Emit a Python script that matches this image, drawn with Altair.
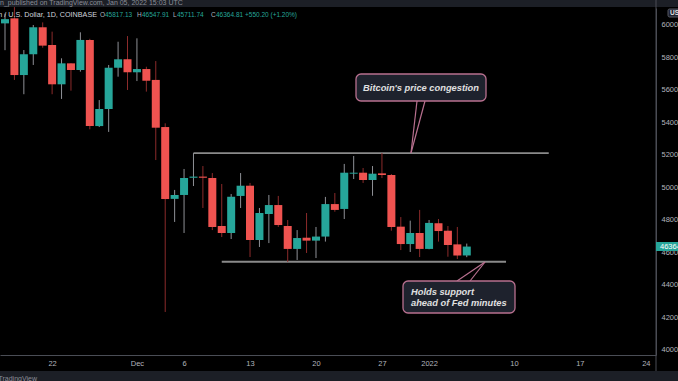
import altair as alt
import pandas as pd

# ---------------- data ----------------
dates = ["2021-11-17", "2021-11-18", "2021-11-19", "2021-11-20", "2021-11-21", "2021-11-22",
         "2021-11-23", "2021-11-24", "2021-11-25", "2021-11-26", "2021-11-27", "2021-11-28",
         "2021-11-29", "2021-11-30", "2021-12-01", "2021-12-02", "2021-12-03", "2021-12-04",
         "2021-12-05", "2021-12-06", "2021-12-07", "2021-12-08", "2021-12-09", "2021-12-10",
         "2021-12-11", "2021-12-12", "2021-12-13", "2021-12-14", "2021-12-15", "2021-12-16",
         "2021-12-17", "2021-12-18", "2021-12-19", "2021-12-20", "2021-12-21", "2021-12-22",
         "2021-12-23", "2021-12-24", "2021-12-25", "2021-12-26", "2021-12-27", "2021-12-28",
         "2021-12-29", "2021-12-30", "2021-12-31", "2022-01-01", "2022-01-02", "2022-01-03",
         "2022-01-04", "2022-01-05"]
opens = [60100, 60410, 56920, 58200, 59860, 58770, 56350, 57640, 57230, 59080, 53780, 54830,
         57370, 57890, 57090, 57290, 56620, 53720, 49300, 49540, 50600, 50670, 50585, 47630,
         47200, 49480, 50110, 46770, 48370, 48920, 47630, 46220, 46910, 46730, 46980, 48980,
         48680, 50850, 50910, 50460, 50870, 50770, 47590, 46520, 47200, 46220, 47800, 47340,
         46500, 45817.13]
highs = [60700, 61100, 58460, 60000, 60160, 59590, 57950, 57650, 59550, 59150, 55380, 57540,
         58970, 59320, 59180, 57430, 57780, 53950, 49850, 51140, 52120, 51320, 50890, 50215,
         49600, 50890, 50280, 48740, 49540, 49480, 48000, 47380, 48430, 47570, 49420, 49660,
         51450, 51940, 51200, 51320, 52120, 50830, 48180, 47960, 48620, 48000, 48060, 47630,
         47570, 46547.91]
lows = [58450, 56620, 55740, 57540, 58600, 55740, 55450, 55960, 57130, 53580, 53720, 53420,
        56820, 56000, 56550, 55900, 51690, 42340, 47880, 47200, 50090, 48740, 47380, 46950,
        46830, 48740, 45720, 46340, 46580, 47570, 45420, 45540, 45970, 45660, 46670, 48510,
        48060, 50520, 50280, 49490, 50580, 47340, 46150, 46030, 45720, 46200, 46670, 45740,
        45600, 45711.74]
closes = [60360, 56920, 58200, 59860, 58730, 56350, 57640, 57230, 59080, 53780, 54830, 57370,
          57890, 57090, 57290, 56570, 53680, 49290, 49540, 50585, 50670, 50600, 47570, 47200,
          49430, 50110, 46770, 48430, 48920, 47690, 46220, 46890, 46730, 46980, 48980, 48620,
          50910, 50910, 50460, 50850, 50770, 47570, 46520, 47200, 46220, 47820, 47320, 46460,
          45814.61, 46364.81]

tick_dates = ["2021-11-22", "2021-12-01", "2021-12-06", "2021-12-13", "2021-12-20",
              "2021-12-27", "2022-01-01", "2022-01-10", "2022-01-17", "2022-01-24"]
tick_labels = ["22", "Dec", "6", "13", "20", "27", "2022", "10", "17", "24"]
price_ticks = [40000, 42000, 44000, 46000, 48000, 50000, 52000, 54000, 56000, 58000, 60000]

level_prices = [52120, 45430]
level_start = ["2021-12-07T00:00", "2021-12-10T00:00"]
level_end = ["2022-01-13T16:48", "2022-01-09T04:00"]

callout_1 = "Bitcoin's price congestion"
callout_2 = ["Holds support", "ahead of Fed minutes"]

# ---------------- tables ----------------
origin = pd.Timestamp("2021-12-01")
df = pd.DataFrame({"date": dates, "o": opens, "h": highs, "l": lows, "c": closes})
df["d"] = (pd.to_datetime(df["date"]) - origin).dt.days

lv = pd.DataFrame({"p": level_prices,
                   "x1": [(pd.Timestamp(s) - origin) / pd.Timedelta(days=1) for s in level_start],
                   "x2": [(pd.Timestamp(s) - origin) / pd.Timedelta(days=1) for s in level_end]})

tick_vals = [int((pd.Timestamp(t) - origin).days) for t in tick_dates]
expr = "''"
for v, lab in reversed(list(zip(tick_vals, tick_labels))):
    expr = f"datum.value == {v} ? '{lab}' : {expr}"

last = df.iloc[-1]
prev_c = df.iloc[-2]["c"]
chg = last["c"] - prev_c
pct = chg / prev_c * 100
tag_df = pd.DataFrame({"c": [last["c"]], "t": [f"{last['c']:.2f}"]})

one = pd.DataFrame({"k": [0]})

FONT = "'Liberation Sans Narrow', 'Liberation Sans', Arial, sans-serif"
SANS = "'Liberation Sans', Arial, sans-serif"
GREEN = "#26a69a"
RED = "#ef5350"
AXC = "#b2b5be"
LINEC = "#4a4d55"

xs = alt.Scale(domain=[-14.0, 54.55], nice=False, zero=False)
ys = alt.Scale(domain=[39692, 61046], nice=False, zero=False)
XAX = alt.Axis(values=tick_vals, labelExpr=expr, ticks=False, grid=False, title=None,
               domainColor=LINEC, labelColor=AXC, labelFontSize=7.5, labelFont=FONT,
               labelPadding=4, labelFlush=False, labelOverlap=False, labelBound=False)
YAX = alt.Axis(orient="right", values=price_ticks, format="d", ticks=False, grid=False,
               title=None, domainColor=LINEC, labelColor=AXC, labelFontSize=7.5,
               labelFont=FONT, labelPadding=5, labelFlush=False, labelOverlap=False,
               labelBound=False)


def txt(s, x, y, color, size=7.5, align="left", baseline="middle", font=SANS,
        weight="normal", style="normal"):
    return alt.Chart(one).mark_text(text=s, align=align, baseline=baseline, color=color,
                                    fontSize=size, font=font, fontWeight=weight,
                                    fontStyle=style).encode(x=alt.value(x), y=alt.value(y))


def box(x1, x2, y1, y2, fill, stroke=None, sw=0, r=0):
    kw = dict(fill=fill, cornerRadius=r)
    if stroke:
        kw.update(stroke=stroke, strokeWidth=sw)
    return alt.Chart(one).mark_rect(**kw).encode(
        x=alt.value(x1), x2=alt.value(x2), y=alt.value(y1), y2=alt.value(y2))


def seg(x1, y1, x2, y2, color, w=1.2):
    return alt.Chart(one).mark_rule(color=color, strokeWidth=w).encode(
        x=alt.value(x1), x2=alt.value(x2), y=alt.value(y1), y2=alt.value(y2))


base = alt.Chart(df)
up = alt.datum.c >= alt.datum.o

wicks = base.mark_rule(strokeWidth=1).encode(
    x=alt.X("d:Q", scale=xs, axis=XAX),
    y=alt.Y("l:Q", scale=ys, axis=YAX),
    y2="h:Q",
    color=alt.condition(up, alt.value("#8e9096"), alt.value("#8c2b2b")),
)

bodies = base.mark_bar(size=8).encode(
    x=alt.X("d:Q", scale=xs, axis=XAX),
    y=alt.Y("o:Q", scale=ys, axis=YAX),
    y2="c:Q",
    color=alt.condition(up, alt.value(GREEN), alt.value(RED)),
)

levels = alt.Chart(lv).mark_rule(color="#8a8a8a", strokeWidth=1.8).encode(
    x=alt.X("x1:Q", scale=xs, axis=XAX), x2="x2:Q",
    y=alt.Y("p:Q", scale=ys, axis=YAX))

PINK = "#b8708f"
BOXF = "#1e222d"
call1 = [
    seg(417, 93, 411, 145, PINK), seg(425, 93, 411, 145, PINK),
    box(356, 486, 66, 93, BOXF, PINK, 1.3, 5),
    txt(callout_1, 421, 79.5, "#e0e0e0", size=9.3, align="center", weight="bold", style="italic"),
]
call2 = [
    seg(457, 273, 485, 254, PINK), seg(470, 273, 485, 254, PINK),
    box(403, 515, 273, 305, BOXF, PINK, 1.3, 5),
    txt(callout_2[0], 411, 284, "#e0e0e0", size=9.3, weight="bold", style="italic"),
    txt(callout_2[1], 411, 295, "#e0e0e0", size=9.3, weight="bold", style="italic"),
]

header = [
    box(0, 680, -8, -1, "#1c1f26"),
    txt("n_published on TradingView.com, Jan 05, 2022 15:03 UTC", 0, -3, "#8a8d96", size=7,
        baseline="alphabetic"),
    txt("Bitcoin / U.S. Dollar, 1D, COINBASE", 97, 6.7, "#d1d4dc", size=7.2, align="right",
        font=FONT),
    txt("O", 100, 6.7, "#b2b5be", size=6.5), txt(f"{last['o']:.2f}", 105, 6.7, GREEN, size=6.5),
    txt("H", 137, 6.7, "#b2b5be", size=6.5), txt(f"{last['h']:.2f}", 142, 6.7, GREEN, size=6.5),
    txt("L", 173, 6.7, "#b2b5be", size=6.5), txt(f"{last['l']:.2f}", 177, 6.7, GREEN, size=6.5),
    txt("C", 211, 6.7, "#b2b5be", size=6.5), txt(f"{last['c']:.2f}", 216, 6.7, GREEN, size=6.5),
    txt(f"+{chg:.2f} (+{pct:.2f}%)", 245, 6.7, GREEN, size=6.5),
]

right = [
    seg(656, -8, 656, 363, LINEC, 1),
    box(668, 692, 1, 9, BOXF, "#6a6d78", 0.8, 1.5),
    txt("USD", 670, 5, "#e0e0e0", size=6.5, weight="bold"),
    alt.Chart(tag_df).transform_calculate(lo="datum.c - 277", hi="datum.c + 277")
    .mark_rect(color=GREEN).encode(x=alt.value(656), x2=alt.value(690),
                                   y=alt.Y("lo:Q", scale=ys, axis=YAX), y2="hi:Q"),
    alt.Chart(tag_df).mark_text(align="left", baseline="middle", color="#ffffff", fontSize=7.5,
                                font=FONT).encode(x=alt.value(660),
                                                  y=alt.Y("c:Q", scale=ys, axis=YAX),
                                                  text="t:N"),
    box(0, 680, 363, 373, "#1c1f26"),
    txt("TradingView", 37, 371, "#8a8d96", size=7, align="right"),
]

chart = alt.layer(levels, wicks, bodies, *call1, *call2, *header, *right).properties(
    width=656, height=347,
    autosize=alt.AutoSizeParams(type="none"),
    padding={"left": 0, "top": 8, "right": 22, "bottom": 26},
    background="#000000",
).configure_view(stroke=None)

# remove the page's default body margin so the chart fills the window like the reference
try:
    import altair.utils.html as _h
    _orig = _h.TEMPLATES["standard"]

    class _T:
        def render(self, *a, **k):
            s = _orig.render(*a, **k)
            return s.replace("<head>", "<head><style>html,body{margin:0;padding:0;"
                             "background:#000;overflow:hidden}</style>", 1)

    _h.TEMPLATES["standard"] = _T()
except Exception:
    pass

chart.save("out.html", embed_options={"renderer": "svg", "actions": False})
